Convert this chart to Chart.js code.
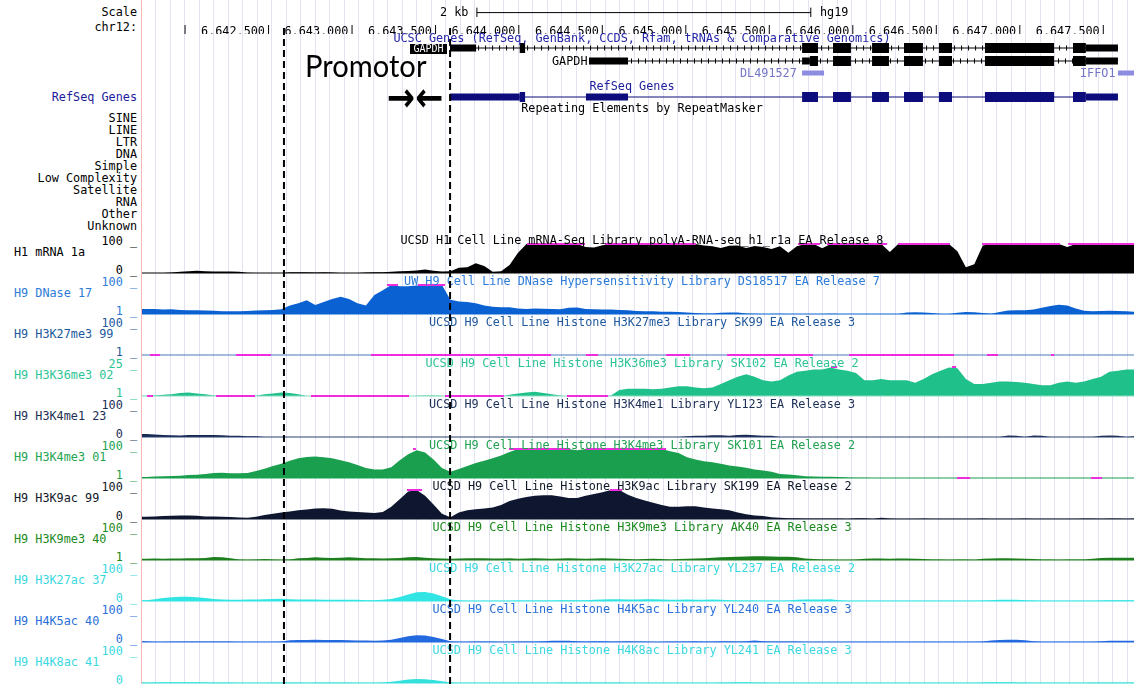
<!DOCTYPE html>
<html>
<head>
<meta charset="utf-8">
<script src="https://cdn.jsdelivr.net/npm/chart.js@4.4.1/dist/chart.umd.min.js"></script>
<style>
    html, body { margin: 0; padding: 0; background: #fff; }
    #page { position: relative; width: 1134px; height: 684px; overflow: hidden;
            font-family: "DejaVu Sans Mono", monospace; font-size: 11.8px; color: #000; }
    .t { position: absolute; white-space: pre; line-height: 13px; transform: translateY(-50%); }
    .lbl { position: absolute; left: 0; width: 137px; text-align: right; white-space: pre;
           line-height: 13px; transform: translateY(-50%); }
    .ttl { position: absolute; left: 142px; width: 1000px; text-align: center; white-space: pre;
           line-height: 13px; transform: translateY(-50%); z-index: 3; }
    canvas { position: absolute; left: 142px; }
</style>
</head>
<body>
<div id="page"></div>
<script>
/**
 * Vista del navegador UCSC - región GAPDH (chr12, hg19)
 */

// Región visible
const XMIN = 6641760;
const XMAX = 6647630;
const BIN_START = 6641760;
const BIN_SIZE = 50;

// Regla superior
const rulerTicks = [6642000, 6642500, 6643000, 6643500, 6644000, 6644500,
    6645000, 6645500, 6646000, 6646500, 6647000, 6647500];
const scaleBar = [6643730, 6645730];
const promoterEdges = [6642600, 6643583];

const repeatClasses = ['SINE', 'LINE', 'LTR', 'DNA', 'Simple', 'Low Complexity',
    'Satellite', 'RNA', 'Other', 'Unknown'];

// Genes (coordenadas en pb)
const gapdhExons = [[6645849, 6645955], [6646080, 6646180], [6646269, 6646381],
    [6646476, 6646553], [6646748, 6647157], [6647269, 6647345]];
const ucscTx1Span = [6643583, 6647535];
const ucscTx1Utr = [[6643583, 6643737], [6647345, 6647535]];
const ucscTx1Cds = [[6643995, 6644027], [6645666, 6645760]];
const ucscTx2Span = [6644405, 6647535];
const ucscTx2Utr = [[6644405, 6644636], [6645666, 6645712], [6647345, 6647535]];
const ucscTx2Cds = [[6645712, 6645760]];
const refSeqSpan = [6643583, 6647535];
const refSeqUtr = [[6643583, 6643995], [6644387, 6644636], [6647345, 6647535]];
const refSeqCds = [[6643995, 6644027], [6645666, 6645760]];
const otherGenes = [[6645666, 6645796], [6647535, 6647660]]; // DL491527, IFFO1

// Señales por bloques de 50 pb
const mrnaValues = [
    0, 0, 0, 2, 4, 6, 8, 6, 5, 5,
    5, 4, 1, 0, 0, 0, 0, 3, 3, 3,
    2, 3, 2, 0, 0, 0, 2, 3, 3, 4,
    6, 7, 9, 12, 8, 5, 6, 18, 20, 34,
    24, 4, 6, 28, 70, 100, 100, 100, 100, 100,
    100, 100, 90, 88, 96, 100, 100, 100, 100, 100,
    100, 100, 100, 100, 100, 100, 95, 92, 86, 94,
    95, 86, 93, 90, 83, 92, 70, 92, 100, 100,
    85, 100, 100, 100, 100, 100, 100, 100, 72, 100,
    100, 100, 100, 100, 100, 100, 75, 20, 30, 95,
    100, 100, 100, 100, 100, 100, 100, 100, 100, 90,
    100, 100, 100, 100, 100, 100, 100, 100];
const dnaseValues = [
    18, 18, 16, 17, 15, 14, 14, 13, 12, 10,
    10, 10, 11, 13, 14, 15, 17, 30, 38, 48,
    32, 42, 52, 60, 52, 38, 30, 66, 82, 100,
    96, 96, 98, 100, 100, 100, 50, 44, 42, 38,
    30, 26, 24, 24, 20, 18, 20, 19, 18, 17,
    22, 23, 18, 17, 16, 16, 15, 14, 11, 10,
    10, 9, 9, 8, 6, 4, 3, 3, 5, 6,
    6, 3, 2, 1, 1, 2, 1, 1, 1, 1,
    1, 2, 1, 1, 1, 1, 1, 1, 1, 1,
    6, 7, 6, 4, 1, 1, 5, 8, 7, 4,
    2, 8, 13, 14, 14, 16, 22, 28, 33, 30,
    20, 12, 10, 11, 12, 11, 10, 9];
const h3k27me3Values = []; // sin señal por encima de 1 en la vista
const h3k36me3Values = [
    1.2, 1.5, 2, 2.5, 3.5, 4, 3, 2.5, 1.5, 0.5,
    0.5, 0.5, 0.5, 1.2, 2.5, 3, 4, 3.5, 2.5, 1,
    0.5, 0.5, 0.5, 0.5, 0.5, 0.5, 0.5, 0.5, 0.5, 0.5,
    0.5, 0.5, 1.2, 1.5, 1.5, 1.2, 0.5, 0.5, 0.5, 0.5,
    0.5, 0.5, 0.5, 2, 3, 4, 4.5, 3.5, 2.5, 1.5,
    0.5, 0.5, 0.5, 0.5, 0.5, 1.5, 6, 7, 7, 7,
    6.5, 7, 8, 9, 9, 8, 7.5, 8, 11, 14,
    17, 19, 17, 14, 13, 14, 18, 21, 22, 23,
    23, 24.5, 23, 22, 20, 14, 14, 15, 14, 14,
    14, 12, 15, 19, 22, 24.5, 24, 15, 11, 11,
    12, 13, 13, 12.5, 12, 11, 10, 10, 12, 13,
    12, 13, 15, 17, 21, 22, 23, 23];
const h3k4me1Values = [
    10, 9, 7, 6, 5, 7, 7, 7, 7, 6,
    4, 4, 3, 3, 0, 0, 0, 0, 0, 0,
    0, 0, 0, 0, 0, 0, 0, 0, 0, 0,
    0, 0, 0, 0, 0, 0, 0, 0, 0, 0,
    0, 0, 0, 0, 0, 0, 0, 0, 0, 0,
    0, 0, 0, 0, 0, 0, 0, 0, 0, 0,
    0, 0, 0, 0, 3, 4, 4, 6, 6, 4,
    7, 8, 6, 4, 4, 0, 0, 0, 0, 0,
    0, 0, 0, 0, 0, 0, 0, 0, 0, 0,
    0, 0, 0, 0, 0, 0, 0, 0, 0, 0,
    0, 0, 5, 4, 0, 5, 4, 0, 0, 0,
    0, 0, 0, 4, 5, 4, 0, 3];
const h3k4me3Values = [
    4, 6, 7, 8, 9, 11, 12, 15, 18, 19,
    17, 17, 18, 25, 33, 42, 50, 60, 68, 73,
    74, 72, 68, 62, 55, 45, 35, 30, 30, 38,
    62, 82, 96, 88, 64, 35, 22, 32, 42, 52,
    60, 68, 78, 90, 100, 100, 100, 100, 100, 100,
    100, 96, 100, 100, 100, 100, 100, 100, 100, 100,
    100, 100, 92, 86, 72, 64, 58, 55, 50, 44,
    40, 36, 30, 27, 22, 15, 13, 10, 7, 6,
    5, 5, 4, 3, 2, 1.5, 1.2, 1.2, 1.2, 1.2,
    1.2, 1.2, 1.2, 1.2, 1.2, 1.2, 0.5, 0.5, 1.2, 1.2,
    1.2, 1.2, 1.2, 1.2, 1.2, 1.2, 1.2, 1.2, 1.2, 1.2,
    1.2, 1.2, 1.2, 1.2, 1.2, 1.2, 1.2, 1.2];
const h3k9acValues = [
    8, 9, 10, 11, 12, 12, 11, 9, 9, 8,
    7, 5, 4, 8, 14, 18, 22, 26, 30, 33,
    36, 37, 35, 29, 26, 24, 22, 21, 24, 42,
    68, 95, 100, 80, 50, 18, 6, 22, 30, 34,
    36, 40, 48, 62, 70, 76, 80, 82, 82, 78,
    72, 72, 80, 86, 92, 100, 100, 84, 72, 64,
    56, 48, 42, 42, 44, 44, 40, 36, 34, 30,
    22, 16, 12, 10, 6, 4, 3, 3, 2, 2,
    2, 2, 2, 1, 3, 3, 1, 4, 2, 1,
    1, 1, 2, 1, 1, 1, 1, 1, 1, 2,
    1, 1, 1, 1, 2, 1, 1, 1, 1, 1,
    1, 2, 2, 1, 2, 2, 1, 2];
const h3k9me3Values = [
    5, 6, 5, 6, 6, 7, 7, 8, 11, 10,
    7, 3, 2, 3, 4, 3, 2, 3, 7, 8,
    10, 9, 8, 9, 10, 9, 7, 7, 6, 7,
    8, 10, 11, 9, 7, 6, 5, 6, 7, 7,
    7, 6, 6, 7, 5, 6, 7, 6, 5, 6,
    7, 6, 5, 6, 7, 6, 5, 4, 3, 4,
    5, 4, 3, 4, 5, 6, 7, 9, 10, 11,
    12, 13, 14, 14, 13, 12, 12, 10, 6, 4,
    3, 3, 2, 2, 3, 5, 6, 6, 5, 6,
    6, 5, 4, 3, 3, 2, 3, 3, 2, 5,
    6, 7, 7, 6, 5, 4, 3, 3, 2, 3,
    3, 3, 5, 8, 9, 9, 9, 9];
const h3k27acValues = [
    3, 6, 10, 13, 15, 15, 13, 10, 7, 5,
    4, 4, 5, 5, 6, 7, 8, 6, 5, 5,
    5, 4, 4, 4, 4, 4, 3, 3, 4, 7,
    14, 22, 30, 31, 26, 16, 6, 2, 1, 1,
    1, 1, 1, 1, 2, 2, 2, 2, 2, 3,
    3, 3, 3, 4, 5, 6, 6, 5, 5, 6,
    6, 5, 4, 4, 5, 4, 4, 5, 4, 3,
    2, 2, 2, 1, 1, 1, 2, 4, 5, 5,
    5, 6, 3, 1, 1, 1, 1, 1, 1, 1,
    1, 1, 1, 1, 1, 1, 1, 1, 1, 2,
    3, 4, 4, 4, 3, 2, 1, 1, 1, 1,
    1, 1, 1, 2, 3, 3, 3, 3];
const h4k5acValues = [
    3, 1, 1, 2, 2, 2, 2, 2, 2, 2,
    2, 1, 1, 1, 1, 1, 2, 6, 7, 7,
    8, 7, 7, 7, 6, 5, 5, 4, 5, 8,
    14, 20, 23, 22, 17, 10, 3, 1, 1, 2,
    2, 2, 1, 1, 2, 2, 2, 3, 4, 4,
    4, 3, 2, 3, 3, 2, 2, 3, 2, 2,
    1, 1, 2, 2, 2, 3, 2, 2, 3, 3,
    2, 3, 5, 3, 2, 2, 2, 2, 1, 1,
    1, 1, 1, 1, 1, 1, 1, 1, 1, 1,
    1, 1, 1, 1, 1, 1, 1, 1, 1, 2,
    5, 7, 8, 8, 6, 3, 1, 1, 1, 1,
    1, 1, 1, 3, 4, 4, 4, 4];
const h4k8acValues = [
    2, 2, 3, 3, 3, 3, 3, 2, 2, 2,
    2, 1, 1, 1, 1, 2, 2, 2, 2, 1,
    2, 2, 2, 2, 2, 1, 1, 1, 2, 4,
    8, 12, 14, 13, 10, 6, 2, 1, 1, 1,
    1, 1, 1, 1, 1, 1, 1, 1, 1, 2,
    2, 2, 2, 2, 2, 2, 2, 1, 1, 1,
    1, 1, 1, 1, 1, 1, 1, 1, 2, 2,
    3, 3, 2, 2, 1, 1, 1, 1, 1, 1,
    1, 1, 1, 1, 1, 1, 1, 1, 1, 1,
    1, 1, 1, 1, 1, 1, 1, 1, 1, 2,
    3, 3, 3, 2, 2, 1, 1, 1, 1, 1,
    1, 1, 2, 2, 2, 2, 2, 2];

// Tramos recortados (magenta): por encima del máximo / por debajo del mínimo
const mrnaClipHigh = [[6644038, 6644381], [6644500, 6645038], [6645642, 6645772],
    [6645813, 6646169], [6646234, 6646541], [6646731, 6647192], [6647240, 6647630]];
const dnaseClipHigh = [[6643210, 6643275], [6643393, 6643553]];
const h3k27me3ClipLow = [[6641807, 6641866], [6642316, 6642523], [6643115, 6644180],
    [6644387, 6644458], [6644861, 6645003], [6645222, 6645731], [6645944, 6646565],
    [6646760, 6646825], [6647139, 6647157]];
const h3k36me3ClipHigh = [[6645837, 6645873], [6646553, 6646577]];
const h3k36me3ClipLow = [[6641790, 6641825], [6642198, 6642429], [6642760, 6643340],
    [6643553, 6643902], [6644275, 6644518]];
const h3k4me3ClipHigh = [[6643364, 6643381], [6643932, 6644293], [6644387, 6644861]];
const h3k4me3ClipLow = [[6646583, 6646660], [6647376, 6647441]];
const h3k9acClipHigh = [[6643328, 6643417], [6644529, 6644600]];

const trackNames = ['H1 mRNA 1a', 'H9 DNase 17', 'H9 H3K27me3 99', 'H9 H3K36me3 02',
    'H9 H3K4me1 23', 'H9 H3K4me3 01', 'H9 H3K9ac 99', 'H9 H3K9me3 40',
    'H9 H3K27ac 37', 'H9 H4K5ac 40', 'H9 H4K8ac 41'];
const trackTitles = [
    'UCSD H1 Cell Line mRNA-Seq Library polyA-RNA-seq_h1_r1a EA Release 8',
    'UW H9 Cell Line DNase Hypersensitivity Library DS18517 EA Release 7',
    'UCSD H9 Cell Line Histone H3K27me3 Library SK99 EA Release 3',
    'UCSD H9 Cell Line Histone H3K36me3 Library SK102 EA Release 2',
    'UCSD H9 Cell Line Histone H3K4me1 Library YL123 EA Release 3',
    'UCSD H9 Cell Line Histone H3K4me3 Library SK101 EA Release 2',
    'UCSD H9 Cell Line Histone H3K9ac Library SK199 EA Release 2',
    'UCSD H9 Cell Line Histone H3K9me3 Library AK40 EA Release 3',
    'UCSD H9 Cell Line Histone H3K27ac Library YL237 EA Release 2',
    'UCSD H9 Cell Line Histone H4K5ac Library YL240 EA Release 3',
    'UCSD H9 Cell Line Histone H4K8ac Library YL241 EA Release 3'];
const trackMin = [0, 1, 1, 1, 0, 1, 0, 1, 0, 0, 0];
const trackMax = [100, 100, 100, 25, 100, 100, 100, 100, 100, 100, 100];

// Estilos de cada pista
const trackStyles = [
    { fill: '#000000', text: '#000000', base: '#000000' },
    { fill: '#0a62d2', text: '#2c7bd8', base: '#0a62d2' },
    { fill: '#21599c', text: '#21599c', base: '#4a79b8' },
    { fill: '#20c08a', text: '#2cc495', base: '#86dcc0' },
    { fill: '#16294f', text: '#1c2f55', base: '#2a4070' },
    { fill: '#1a9f4e', text: '#22a352', base: '#1a9f4e' },
    { fill: '#0e1630', text: '#101828', base: '#0e1630' },
    { fill: '#1d7f1d', text: '#1d8a1d', base: '#1d7f1d' },
    { fill: '#33e4e4', text: '#3ad8e0', base: '#33e4e4' },
    { fill: '#2369e0', text: '#2a70da', base: '#2369e0' },
    { fill: '#33e0dc', text: '#3ad8e0', base: '#33e0dc' }
];
const trackValues = [mrnaValues, dnaseValues, h3k27me3Values, h3k36me3Values, h3k4me1Values,
    h3k4me3Values, h3k9acValues, h3k9me3Values, h3k27acValues, h4k5acValues, h4k8acValues];
const trackClipHigh = [mrnaClipHigh, dnaseClipHigh, [], h3k36me3ClipHigh, [], h3k4me3ClipHigh,
    h3k9acClipHigh, [], [], [], []];
const trackClipLow = [[], [], h3k27me3ClipLow, h3k36me3ClipLow, [], h3k4me3ClipLow,
    [], [], [], [], []];

// Diseño
const FIRST_BASELINE = 273;
const TRACK_STEP = 41;
const GUIDE_START = 6641841;
const GUIDE_STEP = 85.8;
const MAGENTA = '#f02ce0';
const MONO = 'DejaVu Sans Mono';

const page = document.getElementById('page');
Chart.defaults.animation = false;
Chart.defaults.events = [];
Chart.defaults.plugins.legend.display = false;
Chart.defaults.plugins.tooltip.enabled = false;

function addText(cls, text, y, css) {
    const el = document.createElement('div');
    el.className = cls;
    el.textContent = text;
    el.style.top = y + 'px';
    Object.assign(el.style, css || {});
    page.appendChild(el);
    return el;
}

function addCanvas(top, height, z) {
    const c = document.createElement('canvas');
    c.width = 992;
    c.height = height;
    c.style.top = top + 'px';
    c.style.zIndex = z;
    page.appendChild(c);
    return c;
}

function segments(ranges, y) {
    const pts = [];
    ranges.forEach(([s, e]) => {
        pts.push({ x: s, y: y }, { x: e, y: y }, { x: e, y: null });
    });
    return pts;
}

function withCommas(v) {
    return String(v).replace(/\B(?=(\d{3})+(?!\d))/g, ',');
}

const xScale = { type: 'linear', display: false, min: XMIN, max: XMAX };

// Línea rosa del borde izquierdo
const edge = document.createElement('div');
Object.assign(edge.style, { position: 'absolute', left: '141px', top: '0px', width: '1px',
    height: '684px', background: '#f5b8b8' });
page.appendChild(edge);

// Líneas guía de fondo
new Chart(addCanvas(0, 684, 0), {
    type: 'line',
    data: { datasets: [] },
    options: {
        responsive: false,
        layout: { padding: 0 },
        scales: {
            x: {
                type: 'linear', min: XMIN, max: XMAX, display: true,
                ticks: { display: false },
                grid: { color: '#e2e2f3', lineWidth: 1, drawTicks: false },
                border: { display: false },
                afterBuildTicks: axis => {
                    const guides = [];
                    for (let g = GUIDE_START; g <= XMAX; g += GUIDE_STEP) guides.push({ value: g });
                    axis.ticks = guides;
                }
            },
            y: { display: false, min: 0, max: 1 }
        }
    }
});

// Regla con coordenadas del cromosoma
new Chart(addCanvas(0, 34, 1), {
    type: 'line',
    data: {
        datasets: [{
            data: [{ x: scaleBar[0], y: 0.4 }, { x: scaleBar[1], y: 0.4 }],
            borderColor: '#000', borderWidth: 1,
            pointStyle: 'line', pointRotation: 90, pointRadius: 5,
            pointBorderColor: '#000', pointBorderWidth: 1
        }]
    },
    options: {
        responsive: false,
        layout: { padding: 0 },
        scales: {
            x: {
                type: 'linear', min: XMIN, max: XMAX, position: 'bottom',
                afterBuildTicks: axis => { axis.ticks = rulerTicks.map(v => ({ value: v })); },
                ticks: {
                    autoSkip: false, maxRotation: 0, align: 'end', labelOffset: 0.5, padding: 0,
                    color: '#000', font: { family: MONO, size: 11.8 },
                    callback: v => v === rulerTicks[0] ? '|' : withCommas(v) + '|'
                },
                grid: { display: false },
                border: { display: false }
            },
            y: { display: false, min: 0, max: 1 }
        }
    }
});

// Modelos de genes
function geneDatasets(span, utr, cds, y, color, arrows) {
    const base = { borderColor: color, pointRadius: 0, spanGaps: false, borderCapStyle: 'butt' };
    const sets = [
        { ...base, data: segments(cds, y), borderWidth: 10, order: 0 },
        { ...base, data: segments(utr, y), borderWidth: 7, order: 1 },
        { ...base, data: segments([span], y), borderWidth: 1, order: 3 }
    ];
    if (arrows) {
        sets.push({ ...base, data: segments([span], y), borderWidth: 5, borderDash: [1, 6], order: 2 });
    }
    return sets;
}
new Chart(addCanvas(40, 64, 1), {
    type: 'line',
    data: {
        datasets: [
            ...geneDatasets(ucscTx1Span, ucscTx1Utr, ucscTx1Cds.concat(gapdhExons), 48, '#000', true),
            ...geneDatasets(ucscTx2Span, ucscTx2Utr, ucscTx2Cds.concat(gapdhExons), 61, '#000', true),
            ...geneDatasets(refSeqSpan, refSeqUtr, refSeqCds.concat(gapdhExons), 97, '#0c0c7c', false),
            { data: segments(otherGenes, 73), borderColor: '#8c8ce0', borderWidth: 5, pointRadius: 0 }
        ]
    },
    options: {
        responsive: false,
        layout: { padding: 0 },
        scales: { x: xScale, y: { display: false, min: 40, max: 104, reverse: true } }
    }
});

// Pistas de señal
trackNames.forEach((name, k) => {
    const baseline = FIRST_BASELINE + TRACK_STEP * k;
    const style = trackStyles[k];
    const min = trackMin[k];
    const max = trackMax[k];
    const values = trackValues[k];

    // puntos ordenados dentro de la vista; el primero se apoya en el borde izquierdo
    const pts = values.map((v, i) => ({ x: BIN_START + BIN_SIZE * (i + 0.5), y: v }));
    if (pts.length) pts.unshift({ x: XMIN, y: values[0] });

    new Chart(addCanvas(baseline - 30, 32, 1), {
        type: 'line',
        data: {
            datasets: [
                { data: segments(trackClipHigh[k], max), borderColor: MAGENTA, borderWidth: 2,
                  pointRadius: 0, order: 0, clip: 2 },
                { data: segments(trackClipLow[k], min), borderColor: MAGENTA, borderWidth: 2,
                  pointRadius: 0, order: 0, clip: 2 },
                { data: [{ x: XMIN, y: min }, { x: XMAX, y: min }], borderColor: style.base,
                  borderWidth: 1, pointRadius: 0, order: 1, clip: 2 },
                { data: pts, borderWidth: 0, borderColor: style.fill, backgroundColor: style.fill,
                  fill: 'start', pointRadius: 0, tension: 0, order: 2 }
            ]
        },
        options: {
            responsive: false,
            layout: { padding: { top: 1, bottom: 2 } },
            scales: { x: xScale, y: { display: false, min: min, max: max } }
        }
    });

    addText('ttl', trackTitles[k], baseline - 33, { color: style.text });
    addText('lbl', max + ' _', baseline - 32, { color: style.text });
    addText('lbl', min + ' _', baseline - 3.5, { color: style.text });
    addText('t', name, baseline - 21, { left: '14px', color: style.text });
});

// Líneas discontinuas del promotor
new Chart(addCanvas(24, 660, 4), {
    type: 'line',
    data: {
        datasets: promoterEdges.map(p => ({
            data: [{ x: p, y: 0 }, { x: p, y: 1 }],
            borderColor: '#000', borderWidth: 2, borderDash: [7, 4], pointRadius: 0
        }))
    },
    options: {
        responsive: false,
        layout: { padding: 0 },
        scales: { x: xScale, y: { display: false, min: 0, max: 1 } }
    }
});

// Textos fijos
addText('lbl', 'Scale', 12);
addText('lbl', 'chr12:', 27);
addText('t', '2 kb', 12, { left: '440px' });
addText('t', 'hg19', 12, { left: '820px' });
addText('ttl', 'UCSC Genes (RefSeq, GenBank, CCDS, Rfam, tRNAs & Comparative Genomics)', 38, { color: '#2626a8' });
addText('ttl', 'RefSeq Genes', 86, { color: '#1c1c9c', left: '132px' });
addText('ttl', 'Repeating Elements by RepeatMasker', 108);
addText('lbl', 'RefSeq Genes', 97, { color: '#1c1c9c' });
addText('t', 'GAPDH', 61, { left: '552px' });
addText('t', 'DL491527', 73, { left: '740px', color: '#7474c8' });
addText('t', 'IFFO1', 73, { left: '1080px', color: '#7474c8' });
addText('t', 'GAPDH', 48.5, { left: '410px', width: '37px', textAlign: 'center', background: '#000',
    color: '#fff', fontSize: '10px', lineHeight: '10px', zIndex: 2 });
repeatClasses.forEach((r, i) => addText('lbl', r, 118 + 12 * i));

addText('t', 'Promotor', 65, { left: '305px', fontFamily: 'Lato, "Open Sans", sans-serif',
    fontSize: '31px', lineHeight: '34px', transformOrigin: 'left center',
    transform: 'translateY(-50%) scaleX(0.94)', zIndex: 5 });
addText('t', '\u2192\u2190', 97, { left: '387px', fontFamily: '"DejaVu Sans", sans-serif',
    fontWeight: 'bold', fontSize: '40px', lineHeight: '40px', transformOrigin: 'left center',
    transform: 'translateY(-50%) scaleX(0.84)', zIndex: 5 });
</script>
</body>
</html>
